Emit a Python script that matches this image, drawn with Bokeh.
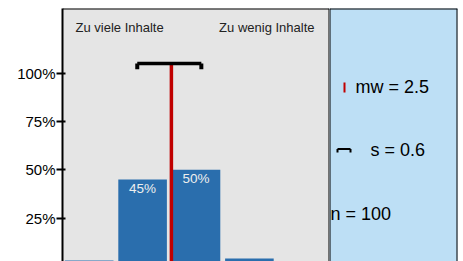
from bokeh.plotting import figure
from bokeh.layouts import row
from bokeh.models import Range1d, FixedTicker, Span
from bokeh.core.properties import value
from bokeh.embed import file_html
from bokeh.resources import INLINE

# ---------------- data ----------------
categories = [1, 2, 3, 4, 5]
percent = [3, 45, 50, 4, 0]
tick_values = [25, 50, 75, 100]
tick_labels = ["25%", "50%", "75%", "100%"]
left_title = "Zu viele Inhalte"
right_title = "Zu wenig Inhalte"
n_total = 100

total = sum(percent)
mean_exact = sum(c * v for c, v in zip(categories, percent)) / total
sd = (sum(v * (c - mean_exact) ** 2 for c, v in zip(categories, percent)) / total) ** 0.5
mw = round(mean_exact, 1)
s = round(sd, 1)
bar_labels = [f"{v}%" if v >= 10 else "" for v in percent]

# ---------------- style ----------------
FONT = value("Liberation Sans")
GREY = "#e5e5e5"
BLUE_PANEL = "#bddff5"
BAR = "#2a6ead"
RED = "#c00000"
X_START, X_END = 0.5, 5.5
Y_START, Y_END = 2.5, 133.5
WHISKER_Y = 105

p = figure(width=329, height=261, x_range=Range1d(X_START, X_END), y_range=Range1d(Y_START, Y_END),
           output_backend="svg", toolbar_location=None, x_axis_location=None,
           min_border_left=62, min_border_right=0, min_border_top=8, min_border_bottom=0)
p.background_fill_color = GREY
p.border_fill_color = "white"
p.outline_line_color = None
p.grid.visible = False
p.add_layout(Span(location=Y_END, dimension="width", line_color="black", line_width=2))
p.add_layout(Span(location=X_END, dimension="height", line_color="black", line_width=2))

ax = p.yaxis[0]
ax.ticker = FixedTicker(ticks=tick_values)
ax.major_label_overrides = dict(zip(tick_values, tick_labels))
ax.axis_line_width = 2
ax.major_tick_line_width = 2
ax.major_tick_out = 6
ax.major_tick_in = 3
ax.minor_tick_out = 0
ax.minor_tick_in = 0
ax.major_label_standoff = 1
ax.major_label_text_font = "Liberation Sans"
ax.major_label_text_font_size = "15px"
ax.major_label_text_color = "black"

p.vbar(x=categories, top=percent, bottom=0, width=0.91, fill_color=BAR, line_color=None)
p.text(x=categories, y=percent, text=bar_labels, y_offset=9, text_align="center",
       text_baseline="middle", text_font=FONT, text_font_size="13.5px", text_color="#eeeeee")

# mean line and sd whisker
p.segment(x0=[mean_exact], y0=[0], x1=[mean_exact], y1=[WHISKER_Y], line_color=RED, line_width=3.5)
p.segment(x0=[mw - s], y0=[WHISKER_Y], x1=[mw + s], y1=[WHISKER_Y], line_color="black", line_width=3.5)
p.segment(x0=[mw - s, mw + s], y0=[WHISKER_Y, WHISKER_Y], x1=[mw - s, mw + s], y1=[WHISKER_Y - 3, WHISKER_Y - 3],
          line_color="black", line_width=4)

p.text(x=[X_START], y=[Y_END], text=[left_title], x_offset=13, y_offset=19, text_align="left",
       text_baseline="middle", text_font=FONT, text_font_size="13px", text_color="#222222")
p.text(x=[X_END], y=[Y_END], text=[right_title], x_offset=-15, y_offset=19, text_align="right",
       text_baseline="middle", text_font=FONT, text_font_size="13px", text_color="#222222")

# ---------------- side panel ----------------
q = figure(width=129, height=261, x_range=Range1d(0, 128), y_range=Range1d(253, 0),
           output_backend="svg", toolbar_location=None,
           min_border_left=0, min_border_right=1, min_border_top=8, min_border_bottom=0)
q.axis.visible = False
q.grid.visible = False
q.background_fill_color = BLUE_PANEL
q.border_fill_color = "white"
q.outline_line_color = None
q.add_layout(Span(location=0, dimension="width", line_color="black", line_width=2))
q.add_layout(Span(location=0, dimension="height", line_color="black", line_width=2))
q.add_layout(Span(location=128, dimension="height", line_color="black", line_width=2))

q.segment(x0=[15], y0=[74], x1=[15], y1=[84], line_color=RED, line_width=2)
q.text(x=[26], y=[78], text=[f"mw = {mw:.1f}"], text_baseline="middle", text_font=FONT,
       text_font_size="18px", text_color="black")
q.segment(x0=[8], y0=[140.5], x1=[21], y1=[140.5], line_color="black", line_width=2)
q.segment(x0=[8, 21], y0=[140.5, 140.5], x1=[8, 21], y1=[144, 144], line_color="black", line_width=2)
q.text(x=[41], y=[141], text=[f"s = {s:.1f}"], text_baseline="middle", text_font=FONT,
       text_font_size="18px", text_color="black")
q.text(x=[1], y=[205], text=[f"n = {n_total}"], text_baseline="middle", text_font=FONT,
       text_font_size="18px", text_color="black")

layout = row(p, q)
open("out.html", "w").write(file_html(layout, INLINE))
